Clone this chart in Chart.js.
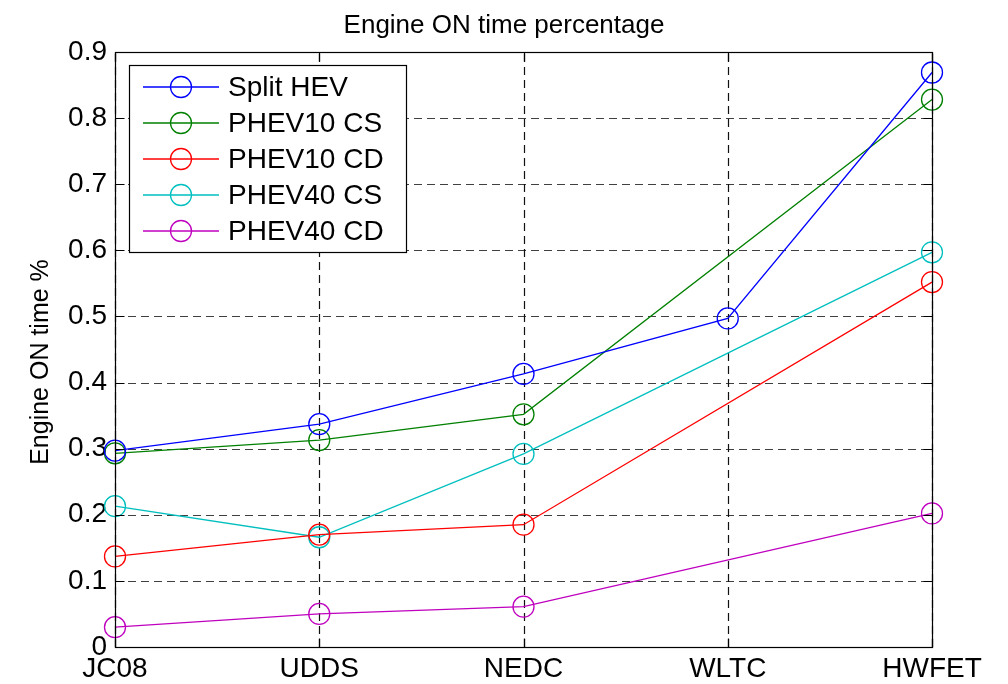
<!DOCTYPE html>
<html>
<head>
<meta charset="utf-8">
<title>Engine ON time percentage</title>
<script src="https://cdn.jsdelivr.net/npm/chart.js@4.4.1/dist/chart.umd.min.js"></script>
<style>
  html, body { margin: 0; padding: 0; background: #ffffff; }
  #wrap { width: 1008px; height: 684px; }
</style>
</head>
<body>
<div id="wrap"><canvas id="chart" width="1008" height="684"></canvas></div>
<script>
// Drive cycles on the x axis
const cycles = ['JC08', 'UDDS', 'NEDC', 'WLTC', 'HWFET'];

// Engine ON time fraction per vehicle (null = cycle not simulated)
const splitHEV = [0.297, 0.337, 0.413, 0.497, 0.869];
const phev10CS = [0.293, 0.313, 0.352, null, 0.828];
const phev10CD = [0.137, 0.170, 0.185, null, 0.552];
const phev40CS = [0.213, 0.166, 0.292, null, 0.597];
const phev40CD = [0.030, 0.050, 0.061, null, 0.202];

const seriesNames = ['Split HEV', 'PHEV10 CS', 'PHEV10 CD', 'PHEV40 CS', 'PHEV40 CD'];
const seriesColors = ['#0000ff', '#008000', '#ff0000', '#00bfbf', '#bf00bf'];

// Y axis ticks and their labels
const yTicks = [0, 0.1, 0.2, 0.3, 0.4, 0.5, 0.6, 0.7, 0.8, 0.9];
const yTickLabels = ['0', '0.1', '0.2', '0.3', '0.4', '0.5', '0.6', '0.7', '0.8', '0.9'];

const titleText = 'Engine ON time percentage';
const yAxisText = 'Engine ON time %';

const FONT = "'Liberation Sans', Arial, Helvetica, sans-serif";

const seriesData = [splitHEV, phev10CS, phev10CD, phev40CS, phev40CD];

const datasets = seriesData.map((values, i) => ({
  label: seriesNames[i],
  data: values,
  borderColor: seriesColors[i],
  backgroundColor: 'rgba(0,0,0,0)',
  borderWidth: 1.3,
  pointStyle: 'circle',
  pointRadius: 10.5,
  pointHoverRadius: 10.5,
  pointBorderWidth: 1.3,
  pointBorderColor: seriesColors[i],
  pointBackgroundColor: 'rgba(0,0,0,0)',
  spanGaps: true,
  tension: 0,
  clip: false
}));

// Dashed grid behind the data, drawn from the scales
const gridPlugin = {
  id: 'dashedGrid',
  beforeDatasetsDraw(chart) {
    const { ctx, chartArea: a, scales: { x, y } } = chart;
    ctx.save();
    ctx.lineWidth = 1.2;
    ctx.setLineDash([8, 5]);
    ctx.strokeStyle = '#404040';
    yTicks.forEach(v => {
      const py = Math.round(y.getPixelForValue(v)) + 0.5;
      ctx.beginPath();
      ctx.moveTo(a.left, py);
      ctx.lineTo(a.right, py);
      ctx.stroke();
    });
    ctx.strokeStyle = '#111111';
    cycles.forEach((c, i) => {
      const px = Math.round(x.getPixelForValue(i)) + 0.5;
      ctx.beginPath();
      ctx.moveTo(px, a.bottom);
      ctx.lineTo(px, a.top);
      ctx.stroke();
    });
    ctx.restore();
  }
};

// Axes box with inward tick marks, titles and the boxed legend
const framePlugin = {
  id: 'frame',
  afterDatasetsDraw(chart) {
    const { ctx, chartArea: a, scales: { x, y } } = chart;
    const L = Math.round(a.left) + 0.5, R = Math.round(a.right) + 0.5;
    const T = Math.round(a.top) + 0.5, B = Math.round(a.bottom) + 0.5;
    const tick = 9;
    ctx.save();
    ctx.setLineDash([]);
    ctx.strokeStyle = '#000000';
    ctx.lineWidth = 1.2;
    ctx.strokeRect(L, T, R - L, B - T);
    ctx.beginPath();
    yTicks.forEach(v => {
      const py = Math.round(y.getPixelForValue(v)) + 0.5;
      ctx.moveTo(L, py); ctx.lineTo(L + tick, py);
      ctx.moveTo(R, py); ctx.lineTo(R - tick, py);
    });
    cycles.forEach((c, i) => {
      const px = Math.round(x.getPixelForValue(i)) + 0.5;
      ctx.moveTo(px, B); ctx.lineTo(px, B - tick);
      ctx.moveTo(px, T); ctx.lineTo(px, T + tick);
    });
    ctx.stroke();

    // Title
    ctx.fillStyle = '#000000';
    ctx.font = '26px ' + FONT;
    ctx.textAlign = 'center';
    ctx.textBaseline = 'alphabetic';
    ctx.fillText(titleText, 504, 33);

    // Y axis title
    ctx.save();
    ctx.font = '25px ' + FONT;
    ctx.translate(41, 362);
    ctx.rotate(-Math.PI / 2);
    ctx.textBaseline = 'middle';
    ctx.fillText(yAxisText, 0, 0);
    ctx.restore();

    // Legend
    const bx = 129.5, by = 65.5, bw = 277, bh = 187;
    ctx.fillStyle = '#ffffff';
    ctx.fillRect(bx, by, bw, bh);
    ctx.strokeStyle = '#000000';
    ctx.lineWidth = 1.2;
    ctx.strokeRect(bx, by, bw, bh);
    ctx.font = '28px ' + FONT;
    ctx.textAlign = 'left';
    ctx.textBaseline = 'middle';
    chart.data.datasets.forEach((ds, i) => {
      const ry = 87 + i * 36;
      ctx.strokeStyle = ds.borderColor;
      ctx.lineWidth = 1.3;
      ctx.beginPath();
      ctx.moveTo(143, ry);
      ctx.lineTo(219, ry);
      ctx.stroke();
      ctx.beginPath();
      ctx.arc(181, ry, 10.5, 0, Math.PI * 2);
      ctx.stroke();
      ctx.fillStyle = '#000000';
      ctx.fillText(ds.label, 228, ry + 1);
    });
    ctx.restore();
  }
};

new Chart(document.getElementById('chart'), {
  type: 'line',
  data: { labels: cycles, datasets },
  options: {
    responsive: false,
    animation: false,
    events: [],
    layout: { padding: { top: 52, right: 76, bottom: 0, left: 0 } },
    plugins: {
      legend: { display: false },
      title: { display: false },
      tooltip: { enabled: false }
    },
    scales: {
      x: {
        type: 'category',
        offset: false,
        grid: { display: false, drawTicks: false },
        border: { display: false },
        ticks: {
          color: '#000000',
          font: { family: FONT, size: 28 },
          padding: 5,
          maxRotation: 0,
          autoSkip: false
        },
        afterFit(scale) { scale.height = 37; }
      },
      y: {
        type: 'linear',
        min: 0,
        max: 0.9,
        grid: { display: false, drawTicks: false },
        border: { display: false },
        afterBuildTicks(scale) { scale.ticks = yTicks.map(v => ({ value: v })); },
        ticks: {
          color: '#000000',
          font: { family: FONT, size: 28 },
          padding: 8,
          callback: (value) => yTickLabels[yTicks.indexOf(value)] ?? ''
        },
        afterFit(scale) { scale.width = 115; }
      }
    }
  },
  plugins: [gridPlugin, framePlugin]
});
</script>
</body>
</html>
